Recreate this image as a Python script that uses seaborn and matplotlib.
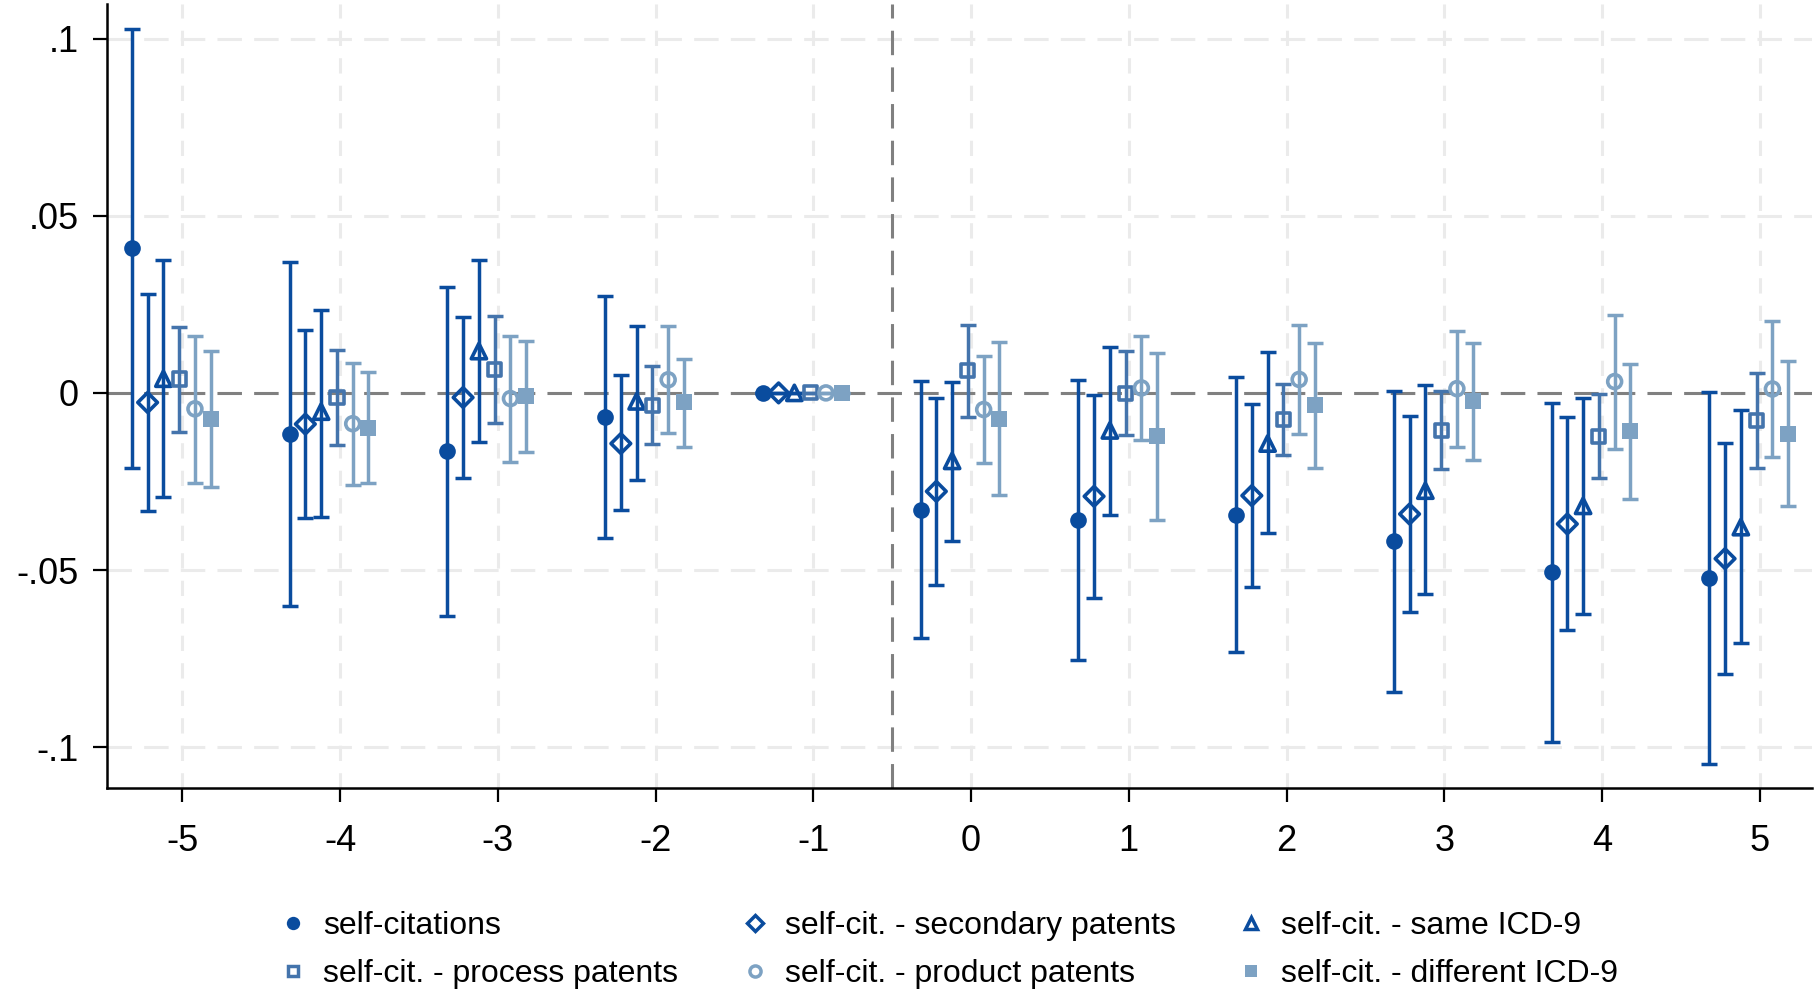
import numpy as np
import pandas as pd
import matplotlib
matplotlib.use("Agg")
import matplotlib.pyplot as plt
import seaborn as sns
from matplotlib.lines import Line2D

# ---------------- data ----------------
events = [-5, -4, -3, -2, -1, 0, 1, 2, 3, 4, 5]

series_names = ["self-citations", "self-cit. - secondary patents", "self-cit. - same ICD-9",
                "self-cit. - process patents", "self-cit. - product patents", "self-cit. - different ICD-9"]

sc_b  = [0.0409, -0.0116, -0.0165, -0.0068, 0.0, -0.0330, -0.0359, -0.0344, -0.0419, -0.0506, -0.0523]
sc_lo = [-0.0211, -0.0603, -0.0630, -0.0409, 0.0, -0.0693, -0.0754, -0.0732, -0.0844, -0.0985, -0.1047]
sc_hi = [0.1027, 0.0370, 0.0300, 0.0274, 0.0, 0.0034, 0.0036, 0.0045, 0.0006, -0.0029, 0.0003]

sec_b  = [-0.0027, -0.0088, -0.0013, -0.0143, 0.0, -0.0278, -0.0292, -0.0290, -0.0342, -0.0370, -0.0468]
sec_lo = [-0.0334, -0.0354, -0.0241, -0.0331, 0.0, -0.0541, -0.0578, -0.0547, -0.0618, -0.0670, -0.0795]
sec_hi = [0.0280, 0.0178, 0.0215, 0.0050, 0.0, -0.0014, -0.0005, -0.0032, -0.0065, -0.0068, -0.0141]

same_b  = [0.0040, -0.0053, 0.0118, -0.0024, 0.0, -0.0192, -0.0106, -0.0143, -0.0276, -0.0319, -0.0379]
same_lo = [-0.0293, -0.0350, -0.0140, -0.0247, 0.0, -0.0418, -0.0346, -0.0396, -0.0568, -0.0624, -0.0706]
same_hi = [0.0374, 0.0233, 0.0374, 0.0188, 0.0, 0.0031, 0.0130, 0.0115, 0.0021, -0.0014, -0.0049]

proc_b  = [0.0039, -0.0013, 0.0066, -0.0035, 0.0, 0.0063, -0.0001, -0.0076, -0.0106, -0.0122, -0.0079]
proc_lo = [-0.0111, -0.0146, -0.0084, -0.0144, 0.0, -0.0069, -0.0118, -0.0174, -0.0216, -0.0241, -0.0213]
proc_hi = [0.0186, 0.0120, 0.0218, 0.0075, 0.0, 0.0192, 0.0117, 0.0025, 0.0005, -0.0002, 0.0055]

prod_b  = [-0.0045, -0.0087, -0.0016, 0.0037, 0.0, -0.0047, 0.0014, 0.0038, 0.0012, 0.0032, 0.0011]
prod_lo = [-0.0254, -0.0260, -0.0194, -0.0113, 0.0, -0.0197, -0.0134, -0.0117, -0.0152, -0.0159, -0.0182]
prod_hi = [0.0162, 0.0085, 0.0160, 0.0188, 0.0, 0.0104, 0.0162, 0.0192, 0.0174, 0.0220, 0.0203]

diff_b  = [-0.0075, -0.0098, -0.0009, -0.0027, 0.0, -0.0073, -0.0123, -0.0035, -0.0024, -0.0108, -0.0115]
diff_lo = [-0.0266, -0.0253, -0.0166, -0.0152, 0.0, -0.0289, -0.0359, -0.0211, -0.0189, -0.0300, -0.0319]
diff_hi = [0.0118, 0.0058, 0.0147, 0.0097, 0.0, 0.0144, 0.0113, 0.0142, 0.0140, 0.0081, 0.0089]

ytick_vals = [-0.1, -0.05, 0, 0.05, 0.1]
ytick_labels = ["-.1", "-.05", "0", ".05", ".1"]

# ---------------- style ----------------
DARK = "#0A4C9E"
MID = "#4474AC"
LIGHT = "#7DA2C3"
styles = [
    dict(color=DARK, marker="o", filled=True, size=12),
    dict(color=DARK, marker="D", filled=False, size=10),
    dict(color=DARK, marker="^", filled=False, size=11),
    dict(color=MID, marker="s", filled=False, size=9.5),
    dict(color=LIGHT, marker="o", filled=False, size=10),
    dict(color=LIGHT, marker="s", filled=True, size=11),
]
offsets = [-0.32, -0.22, -0.12, -0.02, 0.08, 0.18]

sns.set_theme(style="white")
plt.rcParams["font.family"] = ["Liberation Sans", "DejaVu Sans"]
plt.rcParams["text.color"] = "black"
plt.rcParams["xtick.color"] = "black"
plt.rcParams["ytick.color"] = "black"

fig = plt.figure(figsize=(18.16, 9.96), dpi=100)
ax = fig.add_axes([0.0587, 0.209, 0.939, 0.787])

bvals = [sc_b, sec_b, same_b, proc_b, prod_b, diff_b]
lovals = [sc_lo, sec_lo, same_lo, proc_lo, prod_lo, diff_lo]
hivals = [sc_hi, sec_hi, same_hi, proc_hi, prod_hi, diff_hi]

rows = []
for name, b, lo, hi, off in zip(series_names, bvals, lovals, hivals, offsets):
    for e, bb, l, h in zip(events, b, lo, hi):
        rows.append(dict(series=name, event=e, x=e + off, b=bb, lo=l, hi=h))
df = pd.DataFrame(rows)

# grid
for e in events:
    ax.axvline(e, color="#EBEBEB", lw=2.2, dashes=(5, 4), zorder=0)
for yv in ytick_vals:
    ax.axhline(yv, color="#EBEBEB", lw=2.2, dashes=(8, 4), zorder=0)

ax.axhline(0, color="#808080", lw=2.2, dashes=(8, 4), zorder=1)
ax.axvline(-0.5, color="#808080", lw=2.2, dashes=(8, 4), zorder=1)

handles = []
for name, st in zip(series_names, styles):
    d = df[df.series == name]
    ax.errorbar(d.x, d.b, yerr=[d.b - d.lo, d.hi - d.b], fmt="none",
                ecolor=st["color"], elinewidth=2.5, capsize=5.5, capthick=2.5, zorder=2)
    face = st["color"] if st["filled"] else "none"
    sns.scatterplot(x=d.x, y=d.b, ax=ax, marker=st["marker"], s=st["size"] ** 2,
                    facecolor=face, edgecolor=st["color"],
                    linewidth=0 if st["filled"] else 2.6, zorder=3, legend=False)
    handles.append(Line2D([], [], linestyle="none", marker=st["marker"],
                          markersize=st["size"] * 0.8,
                          markerfacecolor=face, markeredgecolor=st["color"],
                          markeredgewidth=0 if st["filled"] else 2.5, label=name))

ax.set_xlim(-5.48, 5.33)
ax.set_ylim(-0.1115, 0.1098)
ax.set_xticks(events)
ax.set_xticklabels([str(e) for e in events])
ax.set_yticks(ytick_vals)
ax.set_yticklabels(ytick_labels)
ax.set_xlabel("")
ax.set_ylabel("")
ax.grid(False)

for s in ["top", "right"]:
    ax.spines[s].set_visible(False)
for s in ["left", "bottom"]:
    ax.spines[s].set_color("black")
    ax.spines[s].set_linewidth(1.8)

ax.tick_params(axis="x", direction="out", length=10, width=1.6, color="black",
               labelcolor="black", labelsize=26, pad=16, bottom=True)
ax.tick_params(axis="y", direction="out", length=10, width=1.6, color="black",
               labelcolor="black", labelsize=26, pad=10, left=True)

# legend in three columns
col_x = [277 / 1816, 739 / 1816, 1235 / 1816]
row_y = 1 - 950 / 996
order = [(0, 3), (1, 4), (2, 5)]
for cx, (i, j) in zip(col_x, order):
    leg = fig.legend(handles=[handles[i], handles[j]], loc="center left",
                     bbox_to_anchor=(cx, row_y), frameon=False, fontsize=23,
                     handlelength=1.0, handletextpad=0.45, labelspacing=0.58,
                     borderpad=0, borderaxespad=0, labelcolor="black")

fig.savefig("out.png", dpi=100, facecolor="white")
